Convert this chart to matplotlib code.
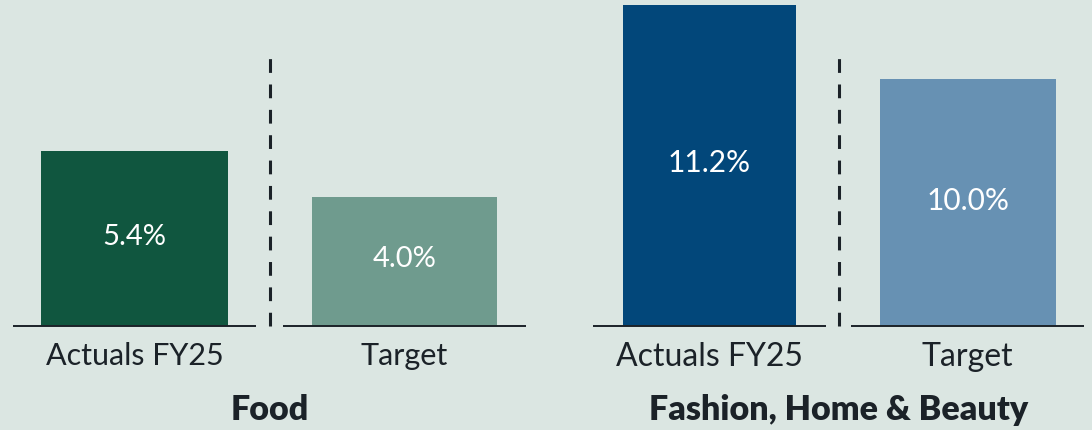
import matplotlib.pyplot as plt
import matplotlib.transforms as mtransforms

plt.rcParams['font.family'] = ['Lato', 'DejaVu Sans']

categories = ["Actuals FY25", "Target"]
food_values = [5.4, 4.0]
fhb_values = [11.2, 10.0]
food_labels = ["5.4%", "4.0%"]
fhb_labels = ["11.2%", "10.0%"]
panel_titles = ["Food", "Fashion, Home & Beauty"]

bg = "#dbe6e2"
ink = "#1b2228"
food_colors = ["#10563f", "#6f9b8e"]
fhb_colors = ["#02477a", "#6791b3"]

W, H = 1092, 431
fig = plt.figure(figsize=(W / 100, H / 100), dpi=100)
fig.patch.set_facecolor(bg)

base_px = 327  # baseline, pixels from top


def panel(left_px, right_px, xlim, ylim, values, labels, colors, widths, title, tick_size, val_size):
    ax = fig.add_axes([left_px / W, (H - base_px) / H, (right_px - left_px) / W, base_px / H])
    ax.set_facecolor(bg)
    ax.set_xlim(*xlim)
    ax.set_ylim(*ylim)
    x = list(range(len(values)))
    ax.bar(x, [v - ylim[0] for v in values], bottom=ylim[0], width=widths, color=colors)
    for xi, v, lab in zip(x, values, labels):
        ax.annotate(lab, (xi, (v + ylim[0]) / 2), xytext=(0, 3), textcoords="offset pixels",
                    ha="center", va="center", color="white", fontsize=val_size)
        ax.plot([xi - 0.45, xi + 0.45], [ylim[0], ylim[0]], color=ink, lw=1.4,
                solid_capstyle="butt", clip_on=False)
    trans = mtransforms.blended_transform_factory(ax.transData, ax.transAxes)
    ax.plot([0.5, 0.5], [0, 0.82], transform=trans, color=ink, lw=2.2,
            dashes=(4.5, 3.8), clip_on=False)
    ax.set_xticks(x)
    ax.set_xticklabels(categories, fontsize=tick_size, color=ink)
    ax.tick_params(axis="x", length=0, pad=11)
    ax.set_yticks([])
    for s in ax.spines.values():
        s.set_visible(False)
    ax.annotate(title, (0.5, 0), xycoords=trans, xytext=(0, -93), textcoords="offset pixels",
                ha="center", va="baseline", fontsize=24.5, fontweight="heavy", color=ink,
                annotation_clip=False)
    return ax


ax1 = panel(0, 546, (-134.5 / 270, (546 - 134.5) / 270), (0, 327 / 32.35),
            food_values, food_labels, food_colors, [0.69, 0.685], panel_titles[0], 22, 21)
ax2 = panel(580, 1092, (-0.5, -0.5 + 512 / 258.5), (6, 6 + 327 / 61.74),
            fhb_values, fhb_labels, fhb_colors, [0.67, 0.68], panel_titles[1], 23, 21.5)

fig.savefig("out.png", dpi=100, facecolor=bg)
